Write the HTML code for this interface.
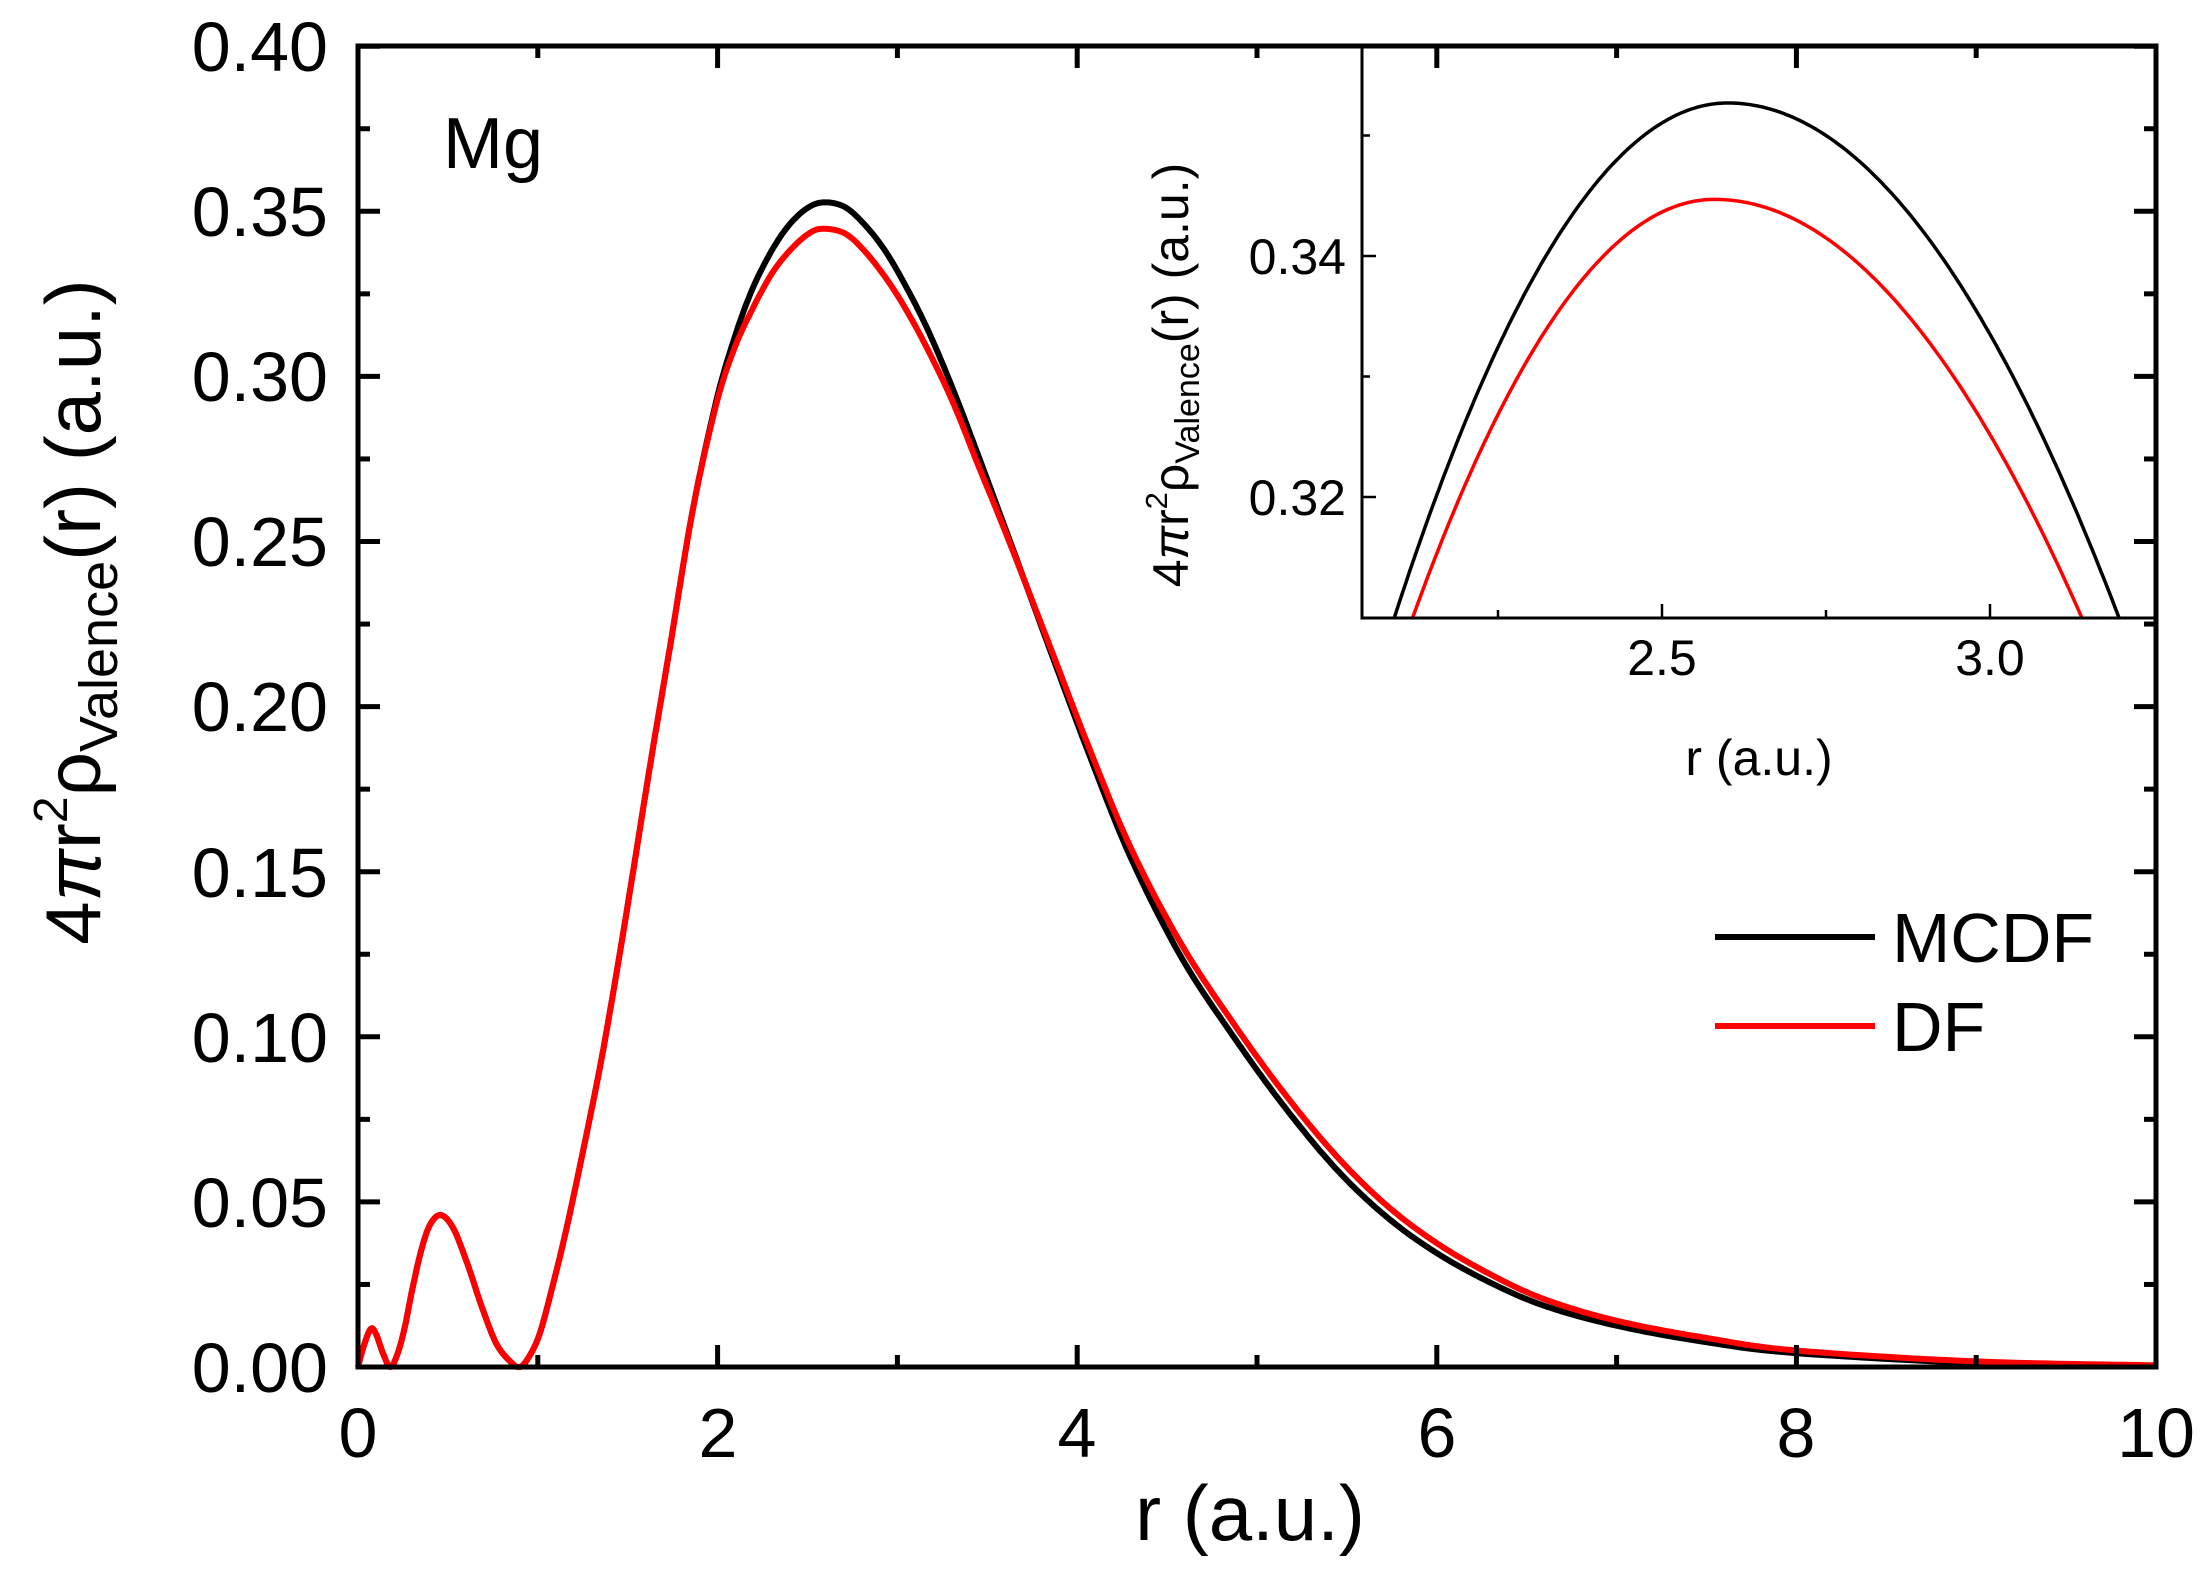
<!DOCTYPE html>
<html><head><meta charset="utf-8"><style>
html,body{margin:0;padding:0;background:#fff;}
svg{display:block;}
text{font-family:"Liberation Sans",Arial,sans-serif;fill:#000;}
</style></head><body>
<svg id="s" width="2208" height="1579" viewBox="0 0 2208 1579" xmlns="http://www.w3.org/2000/svg">
<rect width="2208" height="1579" fill="#fff"/>
<g id="main"></g>
<rect x="1362" y="46" width="794" height="572" fill="#fff"/>
<g id="inset"></g>
<g id="axes"></g>
<g font-size="70" text-anchor="end">
<text x="328" y="71">0.40</text>
<text x="328" y="236">0.35</text>
<text x="328" y="401">0.30</text>
<text x="328" y="566">0.25</text>
<text x="328" y="731">0.20</text>
<text x="328" y="897">0.15</text>
<text x="328" y="1062">0.10</text>
<text x="328" y="1227">0.05</text>
<text x="328" y="1392">0.00</text>
</g>
<g font-size="70" text-anchor="middle">
<text x="358" y="1457">0</text>
<text x="718" y="1457">2</text>
<text x="1077" y="1457">4</text>
<text x="1437" y="1457">6</text>
<text x="1796" y="1457">8</text>
<text x="2156" y="1457">10</text>
</g>
<text x="1250" y="1540" font-size="78" text-anchor="middle">r (a.u.)</text>
<text transform="translate(100,612) rotate(-90)" font-size="78" text-anchor="middle">4<tspan font-style="italic">π</tspan>r<tspan font-size="48" dy="-33">2</tspan><tspan dy="33">ρ</tspan><tspan font-size="54" dy="17">Valence</tspan><tspan dy="-17">(r) (a.u.)</tspan></text>
<text x="443" y="168" font-size="72">Mg</text>
<line x1="1715" y1="937" x2="1875" y2="937" stroke="#000" stroke-width="6"/>
<line x1="1715" y1="1026" x2="1875" y2="1026" stroke="#f00" stroke-width="6"/>
<text x="1892" y="962" font-size="70">MCDF</text>
<text x="1892" y="1051" font-size="70">DF</text>
<g font-size="50" text-anchor="end">
<text x="1346" y="274">0.34</text>
<text x="1346" y="515">0.32</text>
</g>
<g font-size="50" text-anchor="middle">
<text x="1662" y="675">2.5</text>
<text x="1990" y="675">3.0</text>
<text x="1759" y="775">r (a.u.)</text>
</g>
<text transform="translate(1188,375) rotate(-90)" font-size="50" text-anchor="middle">4<tspan font-style="italic">π</tspan>r<tspan font-size="31" dy="-21">2</tspan><tspan dy="21">ρ</tspan><tspan font-size="34" dy="11">Valence</tspan><tspan dy="-11">(r) (a.u.)</tspan></text>
</svg>
<script>
var NS="http://www.w3.org/2000/svg";
function el(p,t,a){var e=document.createElementNS(NS,t);for(var k in a)e.setAttribute(k,a[k]);document.getElementById(p).appendChild(e);return e;}
var X0=358,SX=179.8,Y0=1367,SY=3302,XR=2156;
function mx(r){return X0+r*SX;} function my(v){return Y0-v*SY;}
var base=[[0,0],[0.03,0.006],[0.07,0.0115],[0.1,0.010],[0.14,0.004],[0.18,0],[0.22,0.004],[0.26,0.012],[0.3,0.023],[0.35,0.035],[0.4,0.043],[0.46,0.046],[0.53,0.042],[0.61,0.031],[0.69,0.018],[0.77,0.007],[0.85,0.0015],[0.9,0],[0.95,0.003],[1.01,0.010],[1.08,0.024],[1.16,0.042],[1.25,0.065],[1.35,0.092],[1.44,0.12],[1.53,0.150],[1.63,0.184],[1.735,0.218],[1.86,0.259]];
var mc=base.concat([[1.99,0.292],[2.09,0.311],[2.19,0.326],[2.3,0.338],[2.4,0.346],[2.5,0.3510],[2.59,0.3527],[2.7,0.3515],[2.8,0.347],[2.92,0.339],[3.04,0.328],[3.17,0.314],[3.31,0.296],[3.45,0.276],[3.6,0.254],[3.85,0.217],[4.07,0.185],[4.3,0.154],[4.58,0.124],[4.87,0.100],[5.15,0.079],[5.44,0.060],[5.72,0.0455],[6.0,0.0345],[6.3,0.0255],[6.6,0.0185],[7.0,0.0125],[7.5,0.0075],[8,0.0042],[9,0.0012],[10,0.0003]]);
var df=base.concat([[1.99,0.291],[2.09,0.308],[2.19,0.320],[2.3,0.331],[2.4,0.338],[2.5,0.3430],[2.58,0.3447],[2.7,0.3435],[2.8,0.339],[2.92,0.331],[3.04,0.321],[3.17,0.308],[3.31,0.292],[3.45,0.273],[3.6,0.253],[3.85,0.218],[4.07,0.187],[4.3,0.157],[4.58,0.128],[4.87,0.104],[5.15,0.083],[5.44,0.064],[5.72,0.049],[6.0,0.0375],[6.3,0.028],[6.6,0.0205],[7.0,0.014],[7.5,0.0088],[8,0.005],[9,0.0017],[10,0.0005]]);
function cr(pts){var out=[];for(var i=0;i<pts.length-1;i++){var p0=pts[Math.max(i-1,0)],p1=pts[i],p2=pts[i+1],p3=pts[Math.min(i+2,pts.length-1)];
for(var s=0;s<20;s++){var t=s/20,t2=t*t,t3=t2*t;
var x=0.5*((2*p1[0])+(-p0[0]+p2[0])*t+(2*p0[0]-5*p1[0]+4*p2[0]-p3[0])*t2+(-p0[0]+3*p1[0]-3*p2[0]+p3[0])*t3);
var y=0.5*((2*p1[1])+(-p0[1]+p2[1])*t+(2*p0[1]-5*p1[1]+4*p2[1]-p3[1])*t2+(-p0[1]+3*p1[1]-3*p2[1]+p3[1])*t3);
out.push([x,Math.max(y,0)]);}}out.push(pts[pts.length-1]);return out;}
function path(pts,fx,fy){return pts.map(function(p,i){return (i?"L":"M")+fx(p[0]).toFixed(1)+","+fy(p[1]).toFixed(1);}).join("");}
el("main","path",{d:path(cr(mc),mx,my),fill:"none",stroke:"#000","stroke-width":6,"stroke-linejoin":"round"});
el("main","path",{d:path(cr(df),mx,my),fill:"none",stroke:"#f00","stroke-width":6,"stroke-linejoin":"round"});
function ix(r){return 1662+(r-2.5)*656;} function iy(v){return 256+(0.34-v)*12050;}
var c=el("inset","clipPath",{id:"ic"});
var rr=document.createElementNS(NS,"rect");rr.setAttribute("x",1362);rr.setAttribute("y",46);rr.setAttribute("width",794);rr.setAttribute("height",572);c.appendChild(rr);
var imc=[],idf=[];
for(var r=2.0;r<=3.3;r+=0.005){var d=r-2.6;imc.push([r,0.3527-(d<0?0.1655:0.12)*d*d]);var e=r-2.58;idf.push([r,0.3447-(e<0?0.164:0.1107)*e*e]);}
el("inset","path",{d:path(imc,ix,iy),fill:"none",stroke:"#000","stroke-width":3.5,"clip-path":"url(#ic)"});
el("inset","path",{d:path(idf,ix,iy),fill:"none",stroke:"#f00","stroke-width":3.5,"clip-path":"url(#ic)"});
el("inset","path",{d:"M1362,46V618H2156",fill:"none",stroke:"#000","stroke-width":3});
[[2.25,8],[2.5,14],[2.75,8],[3.0,14]].forEach(function(t){var x=ix(t[0]);el("inset","line",{x1:x,y1:618,x2:x,y2:618-t[1],stroke:"#000","stroke-width":2.5});});
[[0.32,14],[0.33,8],[0.34,14],[0.35,8]].forEach(function(t){var y=iy(t[0]);el("inset","line",{x1:1362,y1:y,x2:1362+t[1],y2:y,stroke:"#000","stroke-width":2.5});});
el("axes","rect",{x:X0,y:46,width:XR-X0,height:Y0-46,fill:"none",stroke:"#000","stroke-width":5});
for(var i=0;i<=10;i++){var L=i%2==0?22:12;var x=mx(i);
el("axes","line",{x1:x,y1:Y0,x2:x,y2:Y0-L,stroke:"#000","stroke-width":5});
el("axes","line",{x1:x,y1:46,x2:x,y2:46+L,stroke:"#000","stroke-width":5});}
for(var j=0;j<=16;j++){var L=j%2==0?22:12;var y=my(j*0.025);
el("axes","line",{x1:X0,y1:y,x2:X0+L,y2:y,stroke:"#000","stroke-width":5});
el("axes","line",{x1:XR,y1:y,x2:XR-L,y2:y,stroke:"#000","stroke-width":5});}
</script>
</body></html>
